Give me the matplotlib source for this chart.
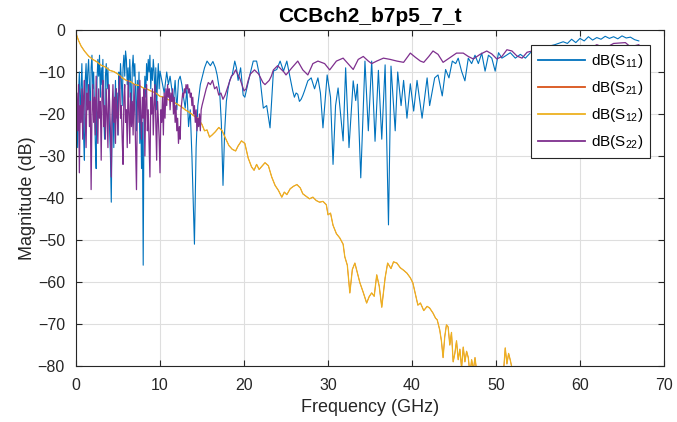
"""S-parameter magnitude plot for CCBch2_b7p5_7_t, matlab-like styling."""
import matplotlib
matplotlib.use("Agg")
import matplotlib.pyplot as plt

# frequency (GHz) / magnitude (dB)
s11_f = [0.0, 0.1, 0.2, 0.3, 0.4, 0.5, 0.6, 0.7, 0.8, 0.9, 1.0, 1.1, 1.2, 1.3, 1.4,
         1.5, 1.6, 1.7, 1.8, 1.9, 2.0, 2.1, 2.2, 2.3, 2.4, 2.5, 2.6, 2.7, 2.8, 2.9,
         3.0, 3.1, 3.2, 3.3, 3.4, 3.5, 3.6, 3.7, 3.8, 3.9, 4.0, 4.1, 4.2, 4.3, 4.4,
         4.5, 4.6, 4.7, 4.8, 4.9, 5.0, 5.1, 5.2, 5.3, 5.4, 5.5, 5.6, 5.7, 5.8, 5.9,
         6.0, 6.1, 6.2, 6.3, 6.4, 6.5, 6.6, 6.7, 6.8, 6.9, 7.0, 7.1, 7.2, 7.3, 7.4,
         7.5, 7.6, 7.7, 7.8, 7.9, 8.0, 8.1, 8.2, 8.3, 8.4, 8.5, 8.6, 8.7, 8.8, 8.9,
         9.0, 9.1, 9.2, 9.3, 9.4, 9.5, 9.6, 9.7, 9.8, 9.9, 10.0,
         10.3, 10.5, 10.8, 11.0, 11.2, 11.4, 11.6, 11.8, 12.0, 12.2, 12.4, 12.6,
         12.8, 13.0, 13.2, 13.4, 13.6, 13.8, 14.0, 14.1, 14.3, 14.5, 14.8, 15.0,
         15.3, 15.6, 16.0, 16.3, 16.6, 16.8, 17.1, 17.3, 17.5, 17.7, 17.9, 18.1,
         18.3, 18.6, 18.9, 19.1, 19.3, 19.6, 19.9, 20.1,
         20.7, 21.1, 21.5, 21.9, 22.3, 22.7, 23.1, 23.5, 23.9, 24.3, 24.7, 25.1,
         25.5, 25.8, 26.0, 26.2, 26.4, 26.6, 26.8, 27.0, 27.2, 27.6, 28.0, 28.4,
         28.8, 29.1, 29.4, 29.9, 30.3, 30.6, 30.9, 31.2, 31.8, 32.1, 32.5, 33.0,
         33.3, 33.5, 33.9, 34.4, 34.8, 35.2, 35.6, 36.0, 36.4, 36.8, 37.2, 37.5,
         38.0, 38.3, 38.7, 39.0, 39.4, 39.8, 40.2, 40.6, 41.2, 41.8, 42.1, 42.7,
         43.1, 43.6, 44.0, 44.4, 44.8, 45.2, 45.5, 45.9, 46.3, 46.7, 47.1, 47.5,
         47.9, 48.3, 48.7, 49.1, 49.5, 49.9, 50.3, 50.7, 51.1, 51.7, 52.3, 52.9,
         53.5, 54.1, 55.0, 56.0, 57.0, 58.0, 58.5, 59.0, 59.5, 60.0, 60.5, 61.0,
         61.5, 62.0, 62.5, 63.0, 63.5, 64.0, 64.5, 65.0, 65.5, 66.0, 66.5, 67.0]
s11_db = [-12, -20, -28, -15, -10, -22, -14, -8, -18, -25, -31, -12, -8, -16, -10,
          -7, -13, -21, -9, -6, -14, -10, -19, -27, -33, -12, -7, -11, -6, -16,
          -9, -13, -7, -20, -26, -11, -8, -14, -9, -18, -24, -30, -41, -22, -17,
          -28, -19, -12, -21, -15, -25, -10, -14, -8, -12, -18, -9, -6, -11, -5,
          -7, -13, -9, -16, -7, -12, -22, -9, -6, -11, -8, -15, -24, -12, -18,
          -10, -27, -19, -33, -22, -56, -18, -11, -16, -8, -12, -7, -10, -6, -14,
          -9, -12, -7, -10, -16, -9, -19, -12, -8, -14, -9.8,
          -13, -15, -10, -13, -11, -14, -17, -12, -19, -12, -11, -13,
          -16, -18.6, -14, -23, -19, -30, -44, -51, -28, -18, -13, -11.4,
          -9, -7.4, -8.5, -7.5, -9, -10.7, -14.5, -22, -37, -24, -17, -14,
          -12, -10.7, -7.4, -9, -12, -9, -15.5, -16,
          -10.7, -7.4, -7.4, -11.4, -18.6, -18, -23.3, -9.8, -9.4, -7.4, -9.8, -7.4,
          -11.4, -14.5, -16, -15, -15.3, -17, -16.5, -15.6, -14.5, -12.1, -11.4, -14,
          -11.4, -15, -23.3, -10.7, -16, -32, -18, -13.8, -26.4, -9, -28, -12.1,
          -16.8, -12.9, -35.2, -7.4, -24, -7.4, -26.5, -9.6, -26, -8.3, -46.4, -8.6,
          -24, -10, -18, -12, -21, -12.8, -19.3, -12, -21, -11.4, -18, -11.4,
          -10.7, -15.7, -9.4, -11.4, -7.4, -8, -6.7, -9.8, -12.1, -6.7, -8, -6,
          -8, -5.5, -9.8, -6, -6.7, -9.8, -5.4, -6.7, -6.2, -5.4, -6.7, -5.8,
          -6.7, -5.4, -4.5, -4.0, -3.5, -2.8, -3.2, -2.2, -3.0, -2.0, -2.6, -1.6,
          -2.4, -1.8, -2.2, -1.5, -2.0, -1.6, -2.1, -1.4, -1.9, -1.7, -2.3, -2.6]

s12_f = [0.0, 0.3, 0.6, 1.0, 1.5, 2.0, 2.5, 3.0, 3.5, 4.0, 4.5, 5.0, 5.5, 6.0, 6.5,
         7.0, 7.5, 8.0, 8.5, 9.0, 9.5, 10.0, 10.5, 11.0, 11.5, 12.0, 12.5, 13.0,
         13.5, 14.0, 14.5, 15.0, 15.3, 15.6, 15.9, 16.2, 16.6, 17.0, 17.4, 17.8,
         18.2, 18.6, 19.0, 19.3, 19.7, 20.1, 20.5, 20.9, 21.2, 21.5, 21.8, 22.1,
         22.5, 22.9, 23.3, 23.7, 24.1, 24.5, 24.8, 25.1, 25.5, 25.9, 26.3, 26.7,
         27.0, 27.4, 27.8, 28.2, 28.6, 29.0, 29.4, 29.8, 30.0, 30.3, 30.6, 31.0,
         31.4, 31.8, 32.0, 32.3, 32.6, 32.9, 33.2, 33.5, 33.8, 34.2, 34.6, 34.9,
         35.2, 35.5, 35.8, 36.1, 36.4, 36.8, 37.1, 37.5, 37.8, 38.2, 38.6, 39.0,
         39.4, 39.8, 40.1, 40.4, 40.7, 41.0, 41.4, 41.8, 42.1, 42.5, 42.8, 43.0,
         43.3, 43.5, 43.7, 43.9, 44.1, 44.3, 44.5, 44.7, 44.9, 45.1, 45.3, 45.5,
         45.7, 45.9, 46.1, 46.3, 46.5, 46.7, 46.9, 47.1, 47.3, 47.5, 47.8, 48.2,
         49.0, 50.0, 50.8, 51.1, 51.3, 51.5, 51.7, 51.9, 52.3, 53.0, 60.0, 67.0]
s12_db = [-0.8, -2.5, -3.8, -5.0, -6.2, -7.0, -7.6, -8.4, -8.8, -9.6, -9.9, -10.5,
          -11.4, -12.0, -12.3, -13.0, -13.2, -13.8, -14.1, -14.6, -15.0, -15.8,
          -16.0, -16.6, -17.0, -17.6, -18.2, -19.0, -19.6, -20.4, -21.0, -22.5,
          -24.0, -23.8, -25.5, -25.0, -24.2, -23.2, -24.0, -25.8, -27.5, -28.4,
          -28.8, -27.6, -26.4, -27.0, -30.5, -32.6, -33.4, -32.0, -33.2, -32.5,
          -31.6, -32.3, -35.0, -37.0, -38.2, -39.8, -38.6, -39.2, -37.8, -37.2,
          -36.8, -37.6, -39.0, -39.6, -40.2, -39.8, -40.6, -41.0, -40.8, -41.6,
          -44.0, -43.6, -46.5, -48.5, -49.5, -51.0, -54.0, -56.0, -62.6, -57.0,
          -55.5, -57.8, -60.2, -62.5, -65.0, -63.5, -62.6, -63.4, -58.3, -61.0,
          -66.0, -59.0, -55.5, -56.8, -55.2, -55.5, -56.6, -57.2, -57.9, -59.0,
          -60.2, -62.8, -65.5, -65.0, -66.8, -65.8, -66.2, -67.4, -68.6, -69.0,
          -71.4, -74.0, -78.0, -73.0, -70.2, -70.7, -75.0, -72.0, -79.0, -77.0,
          -74.0, -78.5, -76.0, -80.5, -75.5, -79.0, -76.5, -78.0, -82.0, -78.5,
          -81.0, -78.0, -83.0, -85.0, -88.0, -87.0, -84.0, -75.7, -79.5, -77.0,
          -78.6, -80.5, -86.0, -90.0, -95.0, -95.0]

# transmission is reciprocal, S21 lies under S12
s21_f = list(s12_f)
s21_db = list(s12_db)

s22_f = [0.0, 0.1, 0.2, 0.3, 0.4, 0.5, 0.6, 0.7, 0.8, 0.9, 1.0, 1.1, 1.2, 1.3, 1.4,
         1.5, 1.6, 1.7, 1.8, 1.9, 2.0, 2.1, 2.2, 2.3, 2.4, 2.5, 2.6, 2.7, 2.8, 2.9,
         3.0, 3.1, 3.2, 3.3, 3.4, 3.5, 3.6, 3.7, 3.8, 3.9, 4.0, 4.1, 4.2, 4.3, 4.4,
         4.5, 4.6, 4.7, 4.8, 4.9, 5.0, 5.1, 5.2, 5.3, 5.4, 5.5, 5.6, 5.7, 5.8, 5.9,
         6.0, 6.1, 6.2, 6.3, 6.4, 6.5, 6.6, 6.7, 6.8, 6.9, 7.0, 7.1, 7.2, 7.3, 7.4,
         7.5, 7.6, 7.7, 7.8, 7.9, 8.0, 8.1, 8.2, 8.3, 8.4, 8.5, 8.6, 8.7, 8.8, 8.9,
         9.0, 9.1, 9.2, 9.3, 9.4, 9.5, 9.6, 9.7, 9.8, 9.9, 10.0, 10.1, 10.2, 10.3,
         10.4, 10.5, 10.6, 10.7, 10.8, 10.9, 11.0, 11.1, 11.2, 11.3, 11.4, 11.5,
         11.6, 11.7, 11.8, 11.9, 12.0, 12.1, 12.2, 12.3, 12.4, 12.5, 12.6, 12.7,
         12.8, 12.9, 13.0, 13.1, 13.2, 13.3, 13.4, 13.5, 13.6, 13.7, 13.8, 13.9,
         14.0, 14.1, 14.2, 14.3, 14.4, 14.5, 14.6, 14.7, 14.8, 14.9, 15.0,
         15.25, 15.5, 15.75, 16.0, 16.25, 16.5, 16.75, 17.0, 17.25, 17.5, 17.75,
         18.0, 18.25, 18.5, 18.75, 19.0, 19.25, 19.5, 19.75, 20.0, 20.25, 20.5,
         20.75, 21.0, 21.25, 21.5, 21.75, 22.0, 22.25, 22.5, 22.75, 23.0, 23.25,
         23.5, 23.75, 24.0, 24.25, 24.5, 24.75, 25.0,
         25.7, 26.4, 27.0, 27.6, 28.2, 28.8, 29.6, 30.2, 31.0, 31.8, 32.6, 33.0,
         33.6, 34.2, 34.8, 35.2, 35.8, 36.6, 37.4, 38.2, 39.0, 39.8, 40.4, 41.0,
         41.4, 42.0, 42.5, 43.1, 43.7, 44.5, 45.3, 46.1, 46.7, 47.3, 48.1, 48.9,
         49.5, 50.1, 50.7, 51.3, 51.9, 52.5, 53.1, 53.7, 54.3, 55.0, 56.0, 57.0,
         58.0, 59.0, 60.0, 61.0, 62.0, 63.0, 64.0, 65.4, 66.0, 67.0]
s22_db = [-20, -15, -24, -13, -34, -18, -22, -14, -26, -16, -12, -21, -28, -15, -19,
          -13, -23, -17, -38, -20, -13, -22, -16, -25, -11, -19, -27, -14, -21, -17,
          -31, -15, -12, -23, -18, -26, -14, -20, -28, -13, -17, -24, -35, -19, -13,
          -22, -16, -27, -14, -20, -25, -15, -11, -21, -18, -26, -32, -16, -13, -22,
          -19, -28, -12, -20, -27, -15, -23, -17, -25, -13, -19, -29, -38, -18, -14,
          -22, -12, -20, -26, -16, -21, -14, -30, -17, -13, -24, -19, -27, -35, -16,
          -20, -14, -25, -18, -13, -22, -31, -17, -21, -26, -34, -19, -22, -16,
          -25, -15, -21, -14, -18, -13, -16, -14, -19, -15, -17, -14,
          -20, -16, -22, -18, -24, -21, -27, -23, -26, -19, -17, -15,
          -16, -14, -15, -13, -14, -13, -15, -14, -16, -15, -18, -16,
          -20, -18, -22, -19, -24, -21, -23, -20, -24, -19, -18,
          -16, -14, -12.5, -13, -12, -14, -13.5, -15.5, -15, -16.5, -15.5,
          -14, -12.5, -11, -10.5, -9.5, -10.5, -11.5, -13, -14.5, -14, -12,
          -10.5, -10, -9.5, -10, -10.5, -11.5, -12.5, -13, -12.5, -12, -11,
          -9.5, -9, -8.5, -9, -9.5, -10, -10.7,
          -9, -7.4, -9.5, -10.7, -8, -7.4, -8, -9.5, -7.4, -6.7, -8.5, -9.4,
          -7, -6.3, -7.4, -8, -7.4, -6.7, -7, -7.4, -7.7, -5.5, -6.5, -7.4,
          -7.7, -6.3, -5, -5.8, -7.7, -6.6, -5.5, -5.5, -6.3, -6.9, -5.8, -5,
          -5.7, -6.9, -6.3, -4.7, -5, -6.2, -6.7, -5.3, -5, -5.8, -4.5, -5.5,
          -4.2, -5, -3.8, -4.6, -3.5, -4.3, -3.2, -3.0, -4.0, -3.5]

legend_labels = [r"dB(S$_{\mathregular{11}}$)", r"dB(S$_{\mathregular{21}}$)",
                 r"dB(S$_{\mathregular{12}}$)", r"dB(S$_{\mathregular{22}}$)"]
x_ticks = [0, 10, 20, 30, 40, 50, 60, 70]
y_ticks = [-80, -70, -60, -50, -40, -30, -20, -10, 0]

plt.rcParams["font.family"] = ["Liberation Sans", "DejaVu Sans"]
plt.rcParams["mathtext.fontset"] = "custom"
plt.rcParams["mathtext.rm"] = "Liberation Sans"

fig = plt.figure(figsize=(6.77, 4.22), dpi=100)
ax = fig.add_axes([76 / 677, 1 - 366 / 422, 588 / 677, 336 / 422])

ax.plot(s11_f, s11_db, color="#0072BD", lw=0.8, label=legend_labels[0])
ax.plot(s21_f, s21_db, color="#D95319", lw=0.5, label=legend_labels[1])
ax.plot(s12_f, s12_db, color="#EDB120", lw=0.9, label=legend_labels[2])
ax.plot(s22_f, s22_db, color="#7E2F8E", lw=0.9, label=legend_labels[3])

ax.set_xlim(0, 70)
ax.set_ylim(-80, 0)
ax.set_xticks(x_ticks)
ax.set_yticks(y_ticks)
ax.grid(True, color="#dedede", lw=0.8)
ax.set_axisbelow(True)
ax.tick_params(direction="in", top=True, right=True, labelsize=11.5,
               colors="#262626", length=4)
ax.tick_params(axis="x", pad=9)
ax.tick_params(axis="y", pad=8)
for sp in ax.spines.values():
    sp.set_color("#262626")
    sp.set_linewidth(0.8)

ax.set_xlabel("Frequency (GHz)", fontsize=13, color="#262626", labelpad=4)
ax.set_ylabel("Magnitude (dB)", fontsize=13, color="#262626", labelpad=1)
ax.set_title("CCBch2_b7p5_7_t", fontsize=15, fontweight="bold", color="black", pad=6)

leg = ax.legend(loc="upper right", bbox_to_anchor=(574 / 588, 321 / 336), fontsize=11,
                fancybox=False, framealpha=1, edgecolor="#262626",
                borderaxespad=0, handlelength=3.1, handletextpad=0.35,
                borderpad=0.45, labelspacing=0.6)
leg.get_frame().set_linewidth(0.8)
for h in leg.get_lines():
    h.set_linewidth(1.3)

fig.savefig("out.png", dpi=100)
